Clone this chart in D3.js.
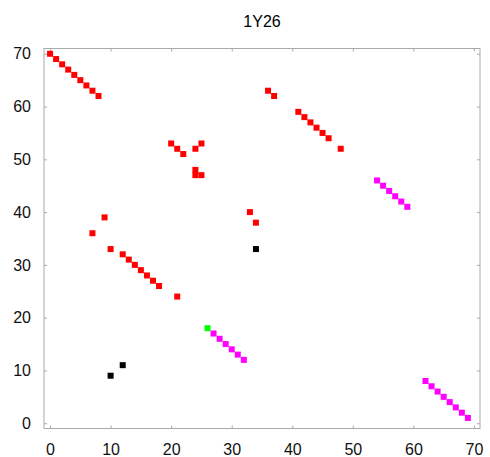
<!DOCTYPE html>
<html><head><meta charset="utf-8">
<script src="https://cdn.jsdelivr.net/npm/d3@7"></script>
<style>body{margin:0;background:#fff}svg{display:block}</style>
</head><body>
<script>
const title = "1Y26";
const xTicks = [0,10,20,30,40,50,60,70];
const yTicks = [0,10,20,30,40,50,60,70];
const redX = [0,1,2,3,4,5,6,7,8, 9, 20,21,22,24,25,24,24,25, 7,10,12,13,14,15,16,17,18,21, 33,34, 36,37, 41,42,43,44,45,46,48];
const redY = [70,69,68,67,66,65,64,63,62, 39, 53,52,51,52,53,48,47,47, 36,33,32,31,30,29,28,27,26,24, 40,38, 63,62, 59,58,57,56,55,54,52];
const magentaX = [54,55,56,57,58,59, 27,28,29,30,31,32, 62,63,64,65,66,67,68,69];
const magentaY = [46,45,44,43,42,41, 17,16,15,14,13,12, 8,7,6,5,4,3,2,1];
const greenX = [26];
const greenY = [18];
const blackX = [34,10,12];
const blackY = [33,9,11];

const W = 490, H = 457;
const svg = d3.select("body").append("svg").attr("width", W).attr("height", H);
const x = d3.scaleLinear().domain([-1, 71]).range([44, 480]);
const y = d3.scaleLinear().domain([-1, 71]).range([428.5, 48.5]);
const font = "'Liberation Sans', Arial, sans-serif";

svg.append("text").attr("x", 262).attr("y", 26.5).attr("text-anchor", "middle")
  .attr("font-family", font).attr("font-size", 16).attr("fill", "#000").text(title);

const frame = "#aaa";
svg.append("rect").attr("x", 44).attr("y", 48.5).attr("width", 436).attr("height", 380)
  .attr("fill", "none").attr("stroke", frame).attr("stroke-width", 1);

const gB = svg.append("g").attr("transform", "translate(0,428.5)")
  .call(d3.axisBottom(x).tickValues(xTicks).tickSize(-3).tickPadding(15).tickFormat(d3.format("d")));
const gT = svg.append("g").attr("transform", "translate(0,48.5)")
  .call(d3.axisTop(x).tickValues(xTicks).tickSize(-3).tickFormat(""));
const gL = svg.append("g").attr("transform", "translate(44,0)")
  .call(d3.axisLeft(y).tickValues(yTicks).tickSize(-3).tickPadding(13).tickFormat(d3.format("d")));
const gR = svg.append("g").attr("transform", "translate(480,0)")
  .call(d3.axisRight(y).tickValues(yTicks).tickSize(-3).tickFormat(""));
[gB, gT, gL, gR].forEach(g => {
  g.select(".domain").remove();
  g.selectAll(".tick line").attr("stroke", frame);
  g.selectAll("text").attr("font-family", font).attr("font-size", 16).attr("fill", "#111");
});

const s = 6;
function plot(xs, ys, color) {
  svg.append("g").selectAll("rect").data(xs.map((v, i) => [v, ys[i]])).join("rect")
    .attr("x", d => x(d[0]) - s / 2).attr("y", d => y(d[1]) - s / 2)
    .attr("width", s).attr("height", s).attr("fill", color);
}
plot(redX, redY, "#ff0000");
plot(magentaX, magentaY, "#ff00ff");
plot(greenX, greenY, "#00ff00");
plot(blackX, blackY, "#000000");
</script>
</body></html>
